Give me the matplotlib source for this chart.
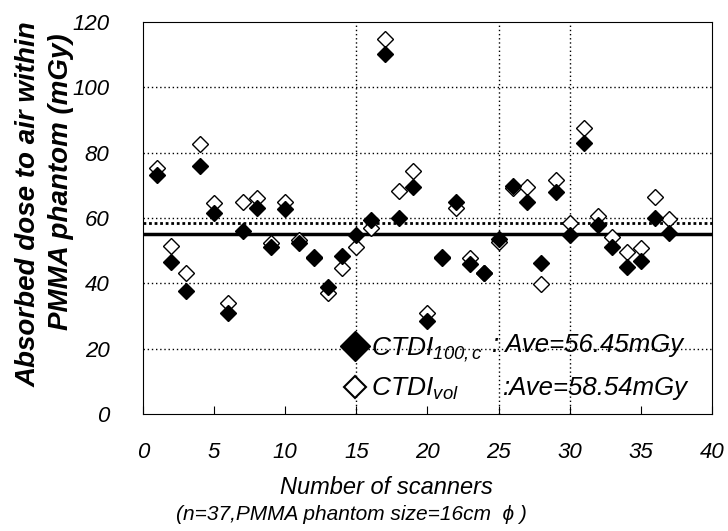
import matplotlib
matplotlib.use('Agg')
import matplotlib.pyplot as plt
from matplotlib.lines import Line2D

scanner = list(range(1, 38))
ctdi_100c = [73.2, 46.4, 37.8, 76.0, 61.6, 30.8, 56.1, 63.0, 51.2, 62.7,
             52.2, 47.9, 38.8, 48.4, 54.8, 59.4, 110.2, 59.9, 69.4, 28.6,
             48.2, 65.0, 45.8, 43.1, 53.5, 69.8, 65.0, 46.1, 68.1, 54.8,
             82.9, 57.9, 51.0, 45.1, 46.9, 59.9, 55.3]
ctdi_vol = [75.2, 51.5, 43.1, 82.7, 64.7, 33.9, 64.8, 66.0, 52.2, 65.0,
            53.3, 48.2, 36.9, 44.6, 51.2, 56.8, 114.7, 68.4, 74.5, 30.8,
            47.7, 63.0, 47.7, 43.1, 52.8, 69.1, 69.4, 39.8, 71.6, 58.4,
            87.4, 60.6, 54.3, 49.5, 50.7, 66.3, 59.7]

# average lines as drawn in the chart
ave_100c_line = 55.2
ave_vol_line = 58.6

x_ticks = list(range(0, 41, 5))
y_ticks = list(range(0, 121, 20))
legend_names = [r'CTDI$_{100,c}$', r'CTDI$_{vol}$']
legend_aves = [': Ave=56.45mGy', ':Ave=58.54mGy']

plt.rcParams['font.family'] = ['Liberation Sans', 'DejaVu Sans']
plt.rcParams['mathtext.fontset'] = 'custom'
plt.rcParams['mathtext.rm'] = 'Liberation Sans:italic'
plt.rcParams['mathtext.it'] = 'Liberation Sans:italic'
plt.rcParams['mathtext.default'] = 'it'

fig = plt.figure(figsize=(7.28, 5.31), dpi=100)
ax = fig.add_axes([0.1964, 0.2203, 0.7816, 0.7383])

# grid: horizontal dotted lines, a few vertical ones
for y in y_ticks[1:-1]:
    ax.axhline(y, color='black', linestyle=(0, (1, 2)), linewidth=1.0, zorder=1)
for x in [15, 25, 30]:
    ax.axvline(x, color='black', linestyle=(0, (1, 2)), linewidth=1.0, zorder=1)

ax.axhline(ave_100c_line, color='black', linewidth=2.5, zorder=2)
ax.axhline(ave_vol_line, color='black', linestyle=(0, (1, 1)), linewidth=2.0, zorder=2)

ax.plot(scanner, ctdi_vol, linestyle='none', marker='D', markersize=8,
        markerfacecolor='white', markeredgecolor='black', markeredgewidth=1.0, zorder=3)
ax.plot(scanner, ctdi_100c, linestyle='none', marker='D', markersize=8,
        markerfacecolor='black', markeredgecolor='black', zorder=4)

ax.set_xlim(0, 40)
ax.set_ylim(0, 120)
ax.set_xticks(x_ticks, [str(v) for v in x_ticks], fontstyle='italic', fontsize=16)
ax.set_yticks(y_ticks, [str(v) for v in y_ticks], fontstyle='italic', fontsize=16)
ax.tick_params(axis='x', direction='in', length=6, pad=20)
ax.tick_params(axis='y', length=0, pad=24)

# axis titles
fig.text(386 / 728, 1 - 488 / 531, 'Number of scanners', fontsize=17,
         fontstyle='italic', ha='center', va='center')
fig.text(351 / 728, 1 - 515 / 531, '(n=37,PMMA phantom size=16cm  \u03d5 )',
         fontsize=15, fontstyle='italic', ha='center', va='center')
fig.text(29 / 728, 1 - 204 / 531, 'Absorbed dose to air within', fontsize=20,
         fontstyle='italic', fontweight='bold', rotation=90, ha='center', va='center')
fig.text(61 / 728, 1 - 182 / 531, 'PMMA phantom (mGy)', fontsize=20,
         fontstyle='italic', fontweight='bold', rotation=90, ha='center', va='center')

handles = [
    Line2D([], [], linestyle='none', marker='D', markersize=15,
           markerfacecolor='black', markeredgecolor='black'),
    Line2D([], [], linestyle='none', marker='D', markersize=11,
           markerfacecolor='white', markeredgecolor='black', markeredgewidth=1.5),
]
leg = ax.legend(handles, legend_names, loc='lower left', bbox_to_anchor=(0.35, 0.03),
                frameon=False, fontsize=19, handlelength=1.0, handletextpad=0.1,
                labelspacing=0.45, borderaxespad=0, borderpad=0)
for t in leg.get_texts():
    t.set_fontstyle('italic')
ax.text((492 - 143) / 569, (414 - 345) / 392, legend_aves[0], transform=ax.transAxes,
        fontsize=18.5, fontstyle='italic', ha='left', va='center')
ax.text((503 - 143) / 569, (414 - 388) / 392, legend_aves[1], transform=ax.transAxes,
        fontsize=18.5, fontstyle='italic', ha='left', va='center')

fig.savefig('out.png', dpi=100)
